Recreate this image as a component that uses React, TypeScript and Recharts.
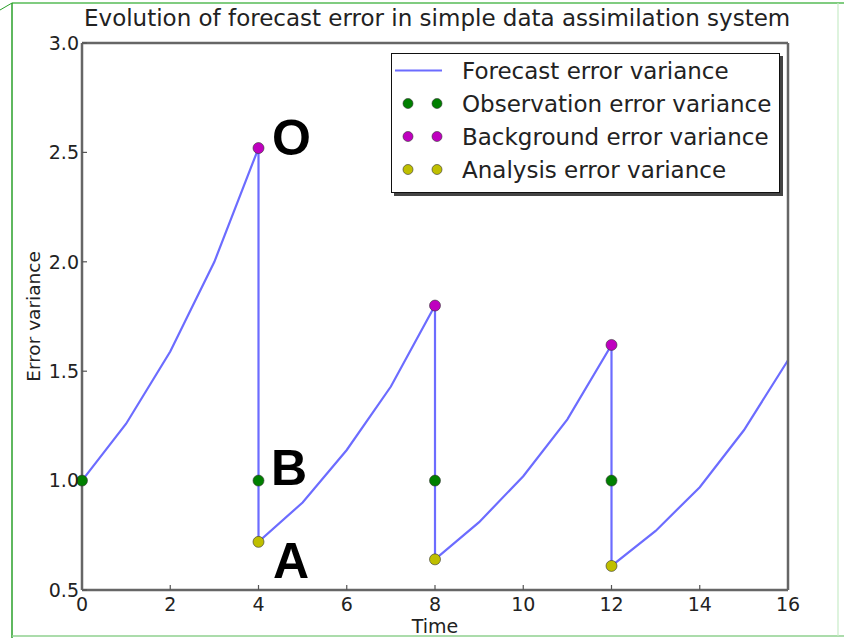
import React from 'react';
import { ComposedChart, Line, Scatter, XAxis, YAxis, ReferenceDot } from 'recharts';

// Forecast error variance, sampled each time step (repeated time = analysis update)
const forecastTime = [0, 1, 2, 3, 4, 4, 5, 6, 7, 8, 8, 9, 10, 11, 12, 12, 13, 14, 15, 16];
const forecastVariance = [1.0, 1.26, 1.59, 2.0, 2.52, 0.72, 0.9, 1.14, 1.43, 1.8, 0.64, 0.81, 1.02, 1.28, 1.62, 0.61, 0.77, 0.97, 1.23, 1.55];

const observationTime = [0, 4, 8, 12];
const observationVariance = [1.0, 1.0, 1.0, 1.0];

const backgroundTime = [4, 8, 12];
const backgroundVariance = [2.52, 1.8, 1.62];

const analysisTime = [4, 8, 12];
const analysisVariance = [0.72, 0.64, 0.61];

const xTicks = [0, 2, 4, 6, 8, 10, 12, 14, 16];
const yTicks = [0.5, 1.0, 1.5, 2.0, 2.5, 3.0];

const legendLabels = [
  'Forecast error variance',
  'Observation error variance',
  'Background error variance',
  'Analysis error variance',
];
const annotationLetters = ['O', 'B', 'A'];

const COLORS = {
  forecast: '#6c6cff',
  observation: '#007f00',
  background: '#bf00bf',
  analysis: '#bfbf00',
};
const legendColors = [COLORS.forecast, COLORS.observation, COLORS.background, COLORS.analysis];

const zip = (ts: number[], vs: number[]) => ts.map((t, i) => ({ t, v: vs[i] }));

const forecastData = zip(forecastTime, forecastVariance);
const observationData = zip(observationTime, observationVariance);
const backgroundData = zip(backgroundTime, backgroundVariance);
const analysisData = zip(analysisTime, analysisVariance);

const FONT = '"DejaVu Sans", sans-serif';
const AXIS_COLOR = '#666';

const dotShape = (color: string) => (props: any) => (
  <circle cx={props.cx} cy={props.cy} r={5.5} fill={color} stroke="#333" strokeWidth={0.6} />
);

// big bold letter placed next to a reference dot
const letter = (text: string, dx: number, dy: number) => (props: any) => {
  const vb = props.viewBox;
  const cx = vb.x + vb.width / 2;
  const cy = vb.y + vb.height / 2;
  return (
    <text
      x={cx + dx}
      y={cy + dy}
      fontFamily='"Liberation Sans", Arial, sans-serif'
      fontWeight="bold"
      fontSize={50}
      fill="#000"
    >
      {text}
    </text>
  );
};

const LegendBox: React.FC = () => (
  <div
    style={{
      position: 'absolute',
      left: 391,
      top: 53,
      width: 389,
      height: 140,
      boxSizing: 'border-box',
      border: '1.5px solid #111',
      boxShadow: '3px 3px 0 #444',
      background: '#fff',
      fontFamily: FONT,
      fontSize: 23,
      color: '#222',
    }}
  >
    {legendLabels.map((label, i) => (
      <div key={label} style={{ display: 'flex', alignItems: 'center', height: 33 }}>
        <svg width={70} height={33} style={{ flex: 'none' }}>
          {i === 0 ? (
            <line x1={3} x2={50} y1={16.5} y2={16.5} stroke={legendColors[i]} strokeWidth={2.2} />
          ) : (
            <>
              <circle cx={16} cy={16.5} r={5} fill={legendColors[i]} stroke="#333" strokeWidth={0.6} />
              <circle cx={45} cy={16.5} r={5} fill={legendColors[i]} stroke="#333" strokeWidth={0.6} />
            </>
          )}
        </svg>
        <span style={{ whiteSpace: 'nowrap' }}>{label}</span>
      </div>
    ))}
  </div>
);

const App: React.FC = () => {
  return (
    <div style={{ position: 'absolute', left: 0, top: 0, width: 844, height: 638, background: '#fff' }}>
      <div
        style={{
          position: 'absolute',
          left: 84,
          width: 706,
          top: 5,
          textAlign: 'center',
          fontFamily: FONT,
          fontSize: 23,
          color: '#222',
          whiteSpace: 'nowrap',
        }}
      >
        Evolution of forecast error in simple data assimilation system
      </div>

      <ComposedChart
        width={844}
        height={638}
        data={forecastData}
        margin={{ top: 33, right: 46, bottom: 8, left: 22 }}
      >
        <XAxis
          dataKey="t"
          type="number"
          domain={[0, 16]}
          ticks={xTicks}
          height={40}
          tickSize={-5}
          tickMargin={13}
          axisLine={{ stroke: AXIS_COLOR, strokeWidth: 2.5 }}
          tickLine={{ stroke: '#555', strokeWidth: 1.2 }}
          tick={{ fill: '#222', fontSize: 19, fontFamily: FONT }}
          label={{ value: 'Time', position: 'insideTop', offset: 29.5, fill: '#222', fontSize: 19, fontFamily: FONT }}
        />
        <XAxis
          xAxisId="top"
          orientation="top"
          type="number"
          domain={[0, 16]}
          allowDataOverflow
          ticks={xTicks}
          height={10}
          tickSize={-5}
          axisLine={{ stroke: AXIS_COLOR, strokeWidth: 2.5 }}
          tickLine={{ stroke: '#555', strokeWidth: 1.2 }}
          tick={false}
        />
        <YAxis
          type="number"
          domain={[0.5, 3.0]}
          ticks={yTicks}
          width={60}
          tickSize={-5}
          tickMargin={8}
          tickFormatter={(v: number) => v.toFixed(1)}
          axisLine={{ stroke: AXIS_COLOR, strokeWidth: 2.5 }}
          tickLine={{ stroke: '#555', strokeWidth: 1.2 }}
          tick={{ fill: '#222', fontSize: 19, fontFamily: FONT }}
          label={{
            value: 'Error variance',
            angle: -90,
            position: 'insideLeft',
            offset: 11,
            fill: '#222',
            fontSize: 18.5,
            fontFamily: FONT,
            style: { textAnchor: 'middle' },
          }}
        />
        <YAxis
          yAxisId="right"
          orientation="right"
          type="number"
          domain={[0.5, 3.0]}
          allowDataOverflow
          ticks={yTicks}
          width={10}
          tickSize={-5}
          axisLine={{ stroke: AXIS_COLOR, strokeWidth: 2.5 }}
          tickLine={{ stroke: '#555', strokeWidth: 1.2 }}
          tick={false}
        />

        <Line
          type="linear"
          dataKey="v"
          stroke={COLORS.forecast}
          strokeWidth={2.2}
          dot={false}
          isAnimationActive={false}
        />
        <Scatter data={observationData} dataKey="v" shape={dotShape(COLORS.observation)} isAnimationActive={false} />
        <Scatter data={backgroundData} dataKey="v" shape={dotShape(COLORS.background)} isAnimationActive={false} />
        <Scatter data={analysisData} dataKey="v" shape={dotShape(COLORS.analysis)} isAnimationActive={false} />

        <ReferenceDot
          x={backgroundTime[0]}
          y={backgroundVariance[0]}
          r={1}
          fill="none"
          stroke="none"
          ifOverflow="visible"
          label={letter(annotationLetters[0], 13.5, 7)}
        />
        <ReferenceDot
          x={observationTime[1]}
          y={observationVariance[1]}
          r={1}
          fill="none"
          stroke="none"
          ifOverflow="visible"
          label={letter(annotationLetters[1], 12.5, 4.5)}
        />
        <ReferenceDot
          x={analysisTime[0]}
          y={analysisVariance[0]}
          r={1}
          fill="none"
          stroke="none"
          ifOverflow="visible"
          label={letter(annotationLetters[2], 14.5, 36)}
        />
      </ComposedChart>

      <LegendBox />

      {/* thin green frame around the figure */}
      <svg width={844} height={638} style={{ position: 'absolute', left: 0, top: 0, pointerEvents: 'none' }}>
        <line x1={12} y1={3} x2={844} y2={3} stroke="#80cc80" strokeWidth={2} />
        <line x1={12} y1={3} x2={12} y2={638} stroke="#2aa02a" strokeWidth={1.5} />
        <line x1={12} y1={636} x2={844} y2={636} stroke="#8fd08f" strokeWidth={1.5} />
        <line x1={838} y1={3} x2={838} y2={636} stroke="#c8ecc8" strokeWidth={1.2} />
        <line x1={0} y1={10} x2={12} y2={3} stroke="#2aa02a" strokeWidth={1} />
      </svg>
    </div>
  );
};

export default App;
